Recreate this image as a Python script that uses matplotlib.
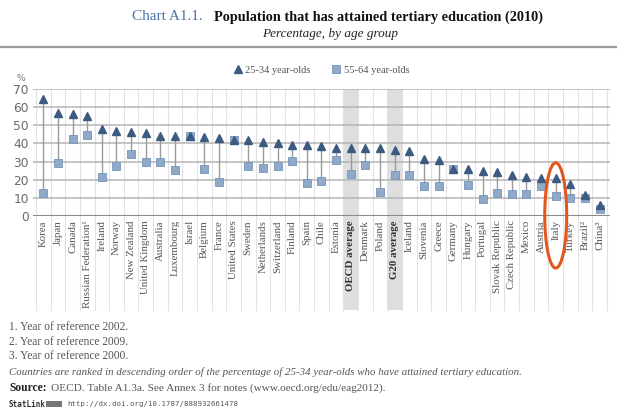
import numpy as np
import matplotlib
matplotlib.use("Agg")
import matplotlib.pyplot as plt
from matplotlib.patches import Ellipse, Rectangle

# Chart A1.1 - tertiary attainment by age group (2010)
countries = ["Korea", "Japan", "Canada", "Russian Federation¹", "Ireland", "Norway",
             "New Zealand", "United Kingdom", "Australia", "Luxembourg", "Israel",
             "Belgium", "France", "United States", "Sweden", "Netherlands",
             "Switzerland", "Finland", "Spain", "Chile", "Estonia", "OECD average",
             "Denmark", "Poland", "G20 average", "Iceland", "Slovenia", "Greece",
             "Germany", "Hungary", "Portugal", "Slovak Republic", "Czech Republic",
             "Mexico", "Austria", "Italy", "Turkey", "Brazil²", "China³"]

young = [64.6, 56.7, 56.4, 55.2, 47.9, 47.1, 46.2, 46.0, 44.2, 44.0, 43.9, 43.3,
         42.8, 41.9, 41.8, 40.7, 40.3, 39.2, 39.0, 38.5, 37.7, 37.6, 37.3, 37.2,
         36.6, 35.9, 31.3, 30.9, 25.9, 25.8, 24.9, 24.1, 22.7, 21.7, 20.9, 20.8,
         17.5, 11.6, 5.9]
old = [12.9, 29.1, 42.4, 44.5, 21.7, 27.3, 33.9, 30.0, 29.6, 25.4, 44.0, 25.8,
       18.6, 41.8, 27.6, 26.3, 27.8, 30.4, 18.2, 19.5, 30.8, 23.2, 28.0, 13.0,
       22.8, 22.8, 16.6, 16.8, 25.8, 16.9, 9.4, 12.9, 12.0, 12.2, 16.8, 10.9,
       9.8, 9.8, 3.7]

averages = ["OECD average", "G20 average"]
highlight = "Italy"

footnotes = ["1. Year of reference 2002.",
             "2. Year of reference 2009.",
             "3. Year of reference 2000."]

serif = ["Liberation Serif", "DejaVu Serif"]
tri_col = "#3d5a80"
sq_col = "#8fa9c8"

fig = plt.figure(figsize=(6.17, 4.11), dpi=100)
ax = fig.add_axes([0.0535, 0.4745, 0.935, 0.309])

x = np.arange(len(countries))
ax.set_xlim(-0.7, len(countries) - 0.3)
ax.set_ylim(0, 70)

# shaded average columns and vertical separators running into the label area
for name in averages:
    i = countries.index(name)
    ax.add_patch(Rectangle((i - 0.5, -52), 1.0, 122, facecolor="#dedede",
                           edgecolor="none", clip_on=False, zorder=0))
for xv in np.arange(-0.5, len(countries), 1.0):
    ax.plot([xv, xv], [-52, 70], color="#e2e2e2", lw=0.8, clip_on=False, zorder=1)

for yv in range(10, 71, 10):
    ax.axhline(yv, color="#b5b5b5", lw=1.1, zorder=1)
ax.axhline(0, color="#8a8a8a", lw=1.5, zorder=2)

ax.vlines(x, old, young, color="#9a9a9a", lw=1.0, zorder=3)
ax.plot(x, old, "s", ms=5.2, mfc=sq_col, mec="#7693b8", mew=0.6, ls="none",
        zorder=4, label="55-64 year-olds")
ax.plot(x, young, "^", ms=6.2, mfc=tri_col, mec=tri_col, ls="none",
        zorder=5, label="25-34 year-olds")

for s in ax.spines.values():
    s.set_visible(False)
ax.set_yticks(range(0, 71, 10))
ax.tick_params(axis="y", length=0, labelsize=8.8, labelcolor="#6a6a6a", pad=3)
ax.set_xticks(x)
ax.set_xticklabels(countries, rotation=90, family=serif, fontsize=7.8,
                   color="#555555", va="top")
ax.tick_params(axis="x", length=0, pad=3)
for lab in ax.get_xticklabels():
    if lab.get_text() in averages:
        lab.set_fontweight("bold")
        lab.set_color("#333333")
ax.text(-0.022, 1.05, "%", transform=ax.transAxes, fontsize=6.5, color="#777777",
        ha="center", va="bottom")

# circle round Italy
i = countries.index(highlight)
ax.add_patch(Ellipse((i, 0.3), 1.5, 58, fill=False, edgecolor="#e2571e", lw=2.2,
                     clip_on=False, zorder=6))

# legend
h, l = ax.get_legend_handles_labels()
fig.legend(h[::-1], l[::-1], loc="center", bbox_to_anchor=(0.52, 1 - 70 / 411),
           ncol=2, frameon=False, prop={"family": serif, "size": 7.5},
           handletextpad=0.2, columnspacing=2.0, handlelength=1.0,
           labelcolor="#555555")

# title block
fig.text(203 / 617, 1 - 17 / 411, "Chart A1.1.", family=serif, fontsize=11,
         color="#4b74a8", va="center", ha="right")
fig.text(214 / 617, 1 - 17 / 411,
         "Population that has attained tertiary education (2010)", family=serif,
         fontsize=10.3, fontweight="bold", color="#111111", va="center", ha="left")
fig.text(330 / 617, 1 - 34 / 411, "Percentage, by age group", family=serif,
         fontsize=9.5, style="italic", color="#222222", va="center", ha="center")
fig.add_artist(plt.Line2D([0, 1], [1 - 47 / 411, 1 - 47 / 411],
                          transform=fig.transFigure, color="#9a9a9a", lw=1.6))

# footnotes
yy = [327, 342, 356]
for t, yp in zip(footnotes, yy):
    fig.text(9 / 617, 1 - yp / 411, t, family=serif, fontsize=8.3,
             color="#555555", va="center")
fig.text(9 / 617, 1 - 372 / 411,
         "Countries are ranked in descending order of the percentage of 25-34 "
         "year-olds who have attained tertiary education.",
         family=serif, fontsize=7.85, style="italic", color="#555555", va="center")
fig.text(9 / 617, 1 - 388 / 411, "Source:", family=serif, fontsize=8.3,
         fontweight="bold", color="#222222", va="center")
fig.text(51 / 617, 1 - 388 / 411,
         "OECD. Table A1.3a. See Annex 3 for notes (www.oecd.org/edu/eag2012).",
         family=serif, fontsize=8.1, color="#555555", va="center")
fig.text(9 / 617, 1 - 404 / 411, "StatLink", family="DejaVu Sans Mono",
         fontsize=5.5, fontweight="bold", color="#333333", va="center")
fig.add_artist(Rectangle((46 / 617, 1 - 407 / 411), 16 / 617, 6 / 411,
                         transform=fig.transFigure, facecolor="#777777",
                         edgecolor="none"))
fig.text(67 / 617, 1 - 404 / 411, "http://dx.doi.org/10.1787/888932661478",
         family="DejaVu Sans Mono", fontsize=5.3, color="#555555", va="center")

fig.savefig("out.png", dpi=100)
